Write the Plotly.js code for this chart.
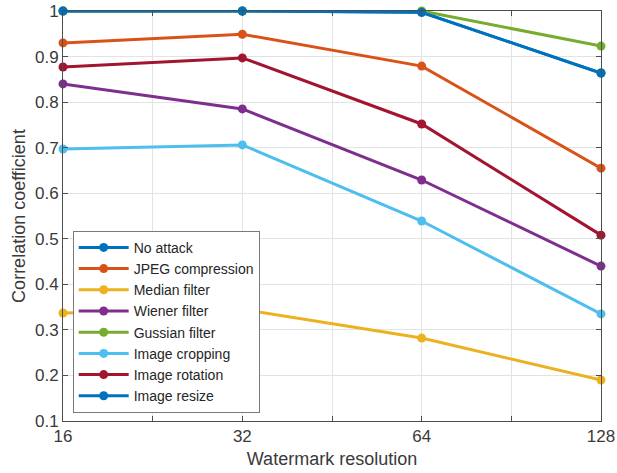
<!DOCTYPE html>
<html>
<head>
<meta charset="utf-8">
<script src="https://cdn.plot.ly/plotly-3.0.1.min.js"></script>
<style>html,body{margin:0;padding:0;background:#fff;}#chart{width:617px;height:473px;}</style>
</head>
<body>
<div id="chart"></div>
<script>
const resolution = [16, 32, 64, 128];
const tickLabels = ['16', '32', '64', '128'];
const seriesNames = ['No attack', 'JPEG compression', 'Median filter', 'Wiener filter', 'Gussian filter', 'Image cropping', 'Image rotation', 'Image resize'];
const noAttack = [1.0, 1.0, 0.997, 0.864];
const jpegCompression = [0.930, 0.949, 0.879, 0.655];
const medianFilter = [0.337, 0.345, 0.282, 0.190];
const wienerFilter = [0.840, 0.785, 0.629, 0.440];
const gussianFilter = [1.0, 1.0, 1.0, 0.923];
const imageCropping = [0.697, 0.706, 0.539, 0.335];
const imageRotation = [0.877, 0.897, 0.752, 0.508];
const imageResize = [1.0, 1.0, 0.997, 0.864];

const seriesValues = [noAttack, jpegCompression, medianFilter, wienerFilter, gussianFilter, imageCropping, imageRotation, imageResize];
const colors = ['#0072BD', '#D95319', '#EDB120', '#7E2F8E', '#77AC30', '#4DBEEE', '#A2142F', '#0072BD'];

const traces = seriesValues.map((vals, i) => ({
  x: resolution, y: vals, name: seriesNames[i], type: 'scatter', mode: 'lines+markers',
  cliponaxis: false,
  line: {color: colors[i], width: 3}, marker: {color: colors[i], size: 9}
}));

// tick positions: labeled resolutions plus geometric midpoints (unlabeled)
const tickvals = [], ticktext = [];
resolution.forEach((r, i) => {
  tickvals.push(r); ticktext.push(tickLabels[i]);
  if (i < resolution.length - 1) { tickvals.push(Math.sqrt(r * resolution[i + 1])); ticktext.push(''); }
});

const fontFam = 'Liberation Sans, Arial, sans-serif';
const axisCommon = {
  showline: true, linecolor: '#4d4d4d', linewidth: 1, mirror: 'ticks',
  ticks: 'inside', ticklen: 5, tickcolor: '#4d4d4d',
  gridcolor: '#e3e3e3', gridwidth: 1, zeroline: false,
  ticklabeloverflow: 'allow',
  tickfont: {family: fontFam, size: 17, color: '#3a3a3a'}
};

const eps = 1e-6;
const layout = {
  width: 617, height: 473,
  margin: {l: 63, r: 16, t: 11, b: 52},
  paper_bgcolor: '#ffffff', plot_bgcolor: '#ffffff',
  showlegend: true,
  xaxis: Object.assign({}, axisCommon, {
    type: 'log', range: [Math.log10(16) - eps, Math.log10(128) + eps],
    tickmode: 'array', tickvals: tickvals, ticktext: ticktext,
    title: {text: 'Watermark resolution', standoff: 6, font: {family: fontFam, size: 18, color: '#3a3a3a'}}
  }),
  yaxis: Object.assign({}, axisCommon, {
    range: [0.1, 1 + eps], dtick: 0.1, tick0: 0.1, tickformat: '.1~f',
    title: {text: 'Correlation coefficient', standoff: 4, font: {family: fontFam, size: 18, color: '#3a3a3a'}}
  }),
  legend: {
    x: 0.018, y: 0.02, xanchor: 'left', yanchor: 'bottom',
    bgcolor: '#ffffff', bordercolor: '#7a7a7a', borderwidth: 1,
    font: {family: fontFam, size: 14, color: '#262626'},
    tracegroupgap: 0, itemwidth: 50
  }
};

Plotly.newPlot('chart', traces, layout, {displayModeBar: false, staticPlot: true});
</script>
</body>
</html>
